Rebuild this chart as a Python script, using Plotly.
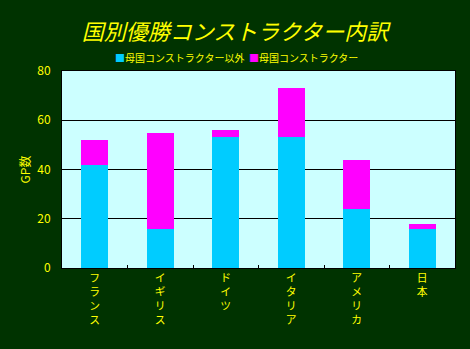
import plotly.graph_objects as go

# GP wins by country, split by whether the constructor is from that country
countries = ["フランス", "イギリス", "ドイツ", "イタリア", "アメリカ", "日本"]
non_home = [42, 16, 53, 53, 24, 16]
home = [10, 39, 3, 20, 20, 2]
series_names = ["母国コンストラクター以外", "母国コンストラクター"]
series_colors = ["#00CCFF", "#FF00FF"]
y_ticks = [0, 20, 40, 60, 80]

FONT = "Noto Sans CJK JP"
YELLOW = "#FFFF00"

# vertical labels: one character per line
x_labels = ["<br>".join(list(c)) for c in countries]

fig = go.Figure()
for vals, name, color in zip([non_home, home], series_names, series_colors):
    fig.add_trace(go.Bar(x=countries, y=vals, name=name,
                         marker=dict(color=color, line=dict(width=0))))

# compact key line above the plot area, centred on the page
key_text = "&nbsp;&nbsp;".join(
    f"<span style='color:{c}'>■</span>{n}" for n, c in zip(series_names, series_colors)
)
fig.add_annotation(text=key_text, xref="paper", yref="paper",
                   x=(236 - 62) / 393, y=1 + 13 / 197,
                   xanchor="center", yanchor="middle", showarrow=False,
                   font=dict(family=FONT, size=10, color=YELLOW))

fig.update_layout(
    width=470, height=349,
    barmode="stack", bargap=0.59,
    paper_bgcolor="#003300", plot_bgcolor="#CCFFFF",
    margin=dict(l=62, r=15, t=71, b=81),
    font=dict(family=FONT, color=YELLOW, size=11),
    title=dict(text="<i>国別優勝コンストラクター内訳</i>", x=0.5, xanchor="center",
               y=1 - 32 / 349, yanchor="middle", automargin=False,
               font=dict(family=FONT, size=22, color=YELLOW)),
    showlegend=False,
    hovermode=False,
)
fig.update_xaxes(tickvals=countries, ticktext=x_labels, tickson="boundaries",
                 ticks="inside", ticklen=3, tickcolor="black",
                 showline=True, linecolor="black", linewidth=1, mirror=True,
                 tickfont=dict(family=FONT, size=10.8, color=YELLOW))
fig.update_yaxes(range=[0, 80], tickvals=y_ticks, showgrid=True, gridcolor="black",
                 gridwidth=1, zeroline=False,
                 showline=True, linecolor="black", linewidth=1, mirror=True,
                 ticks="", ticklabelstandoff=8,
                 tickfont=dict(family=FONT, size=12, color=YELLOW),
                 title=dict(text="GP数", font=dict(family=FONT, size=12, color=YELLOW),
                            standoff=4))

fig.write_html("out.html")
